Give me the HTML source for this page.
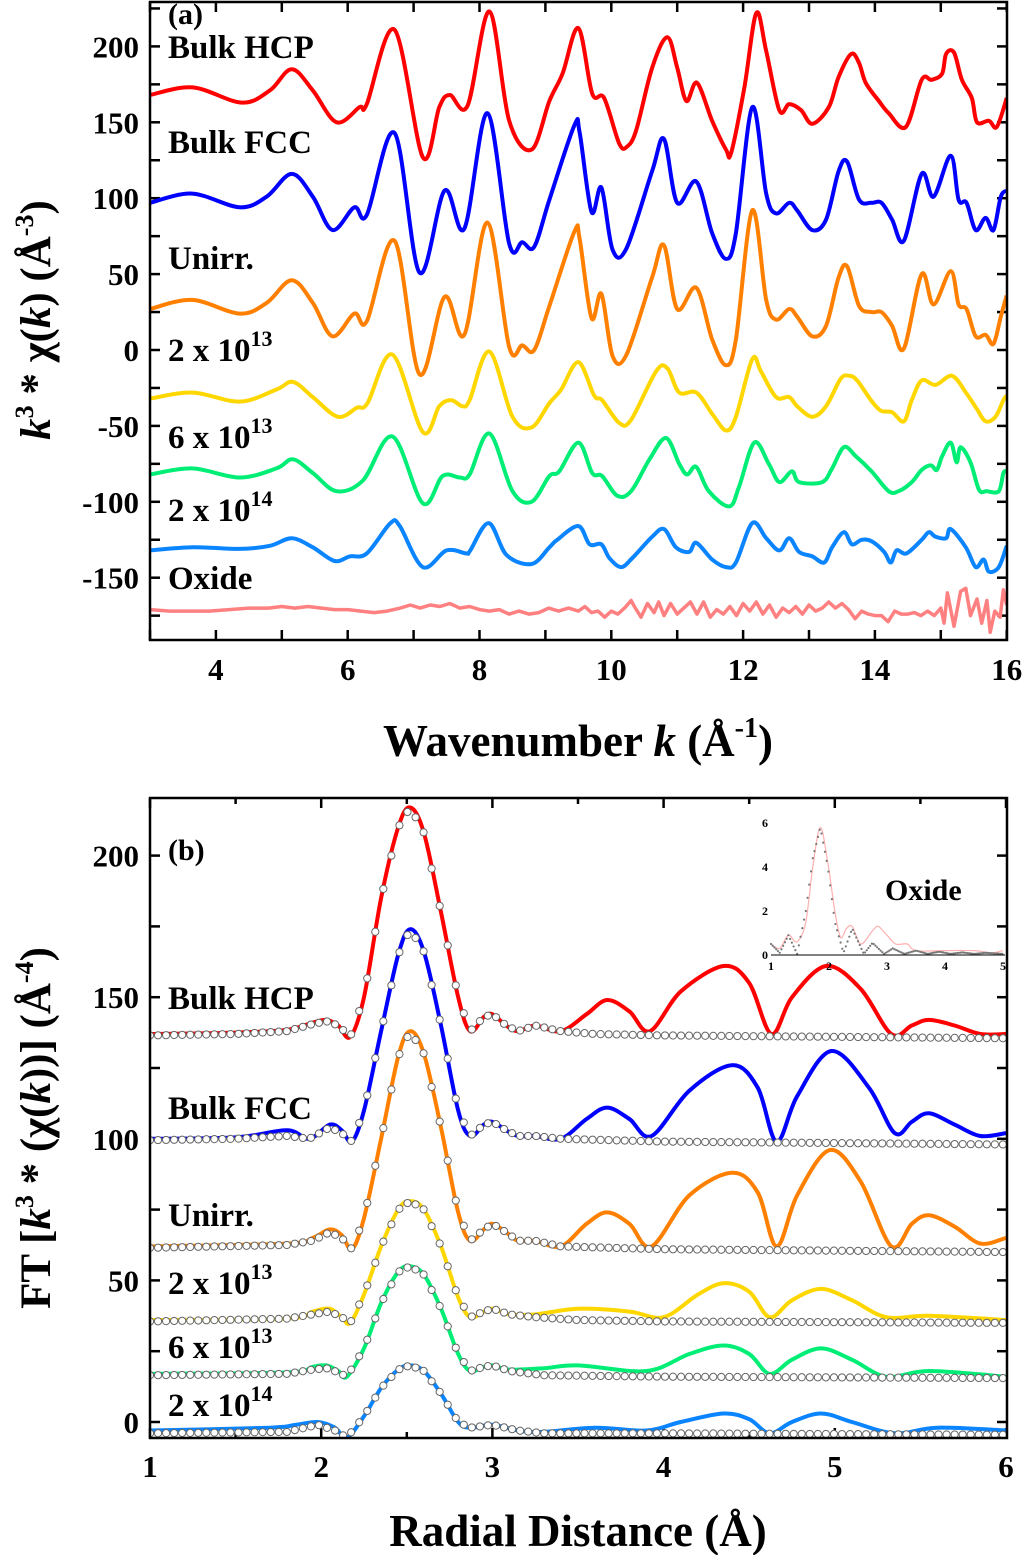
<!DOCTYPE html>
<html><head><meta charset="utf-8"><style>
html,body{margin:0;padding:0;background:#fff}
svg{display:block}
text{font-family:"Liberation Serif",serif;font-weight:bold;fill:#000}
</style></head><body>
<svg id="fig" width="1024" height="1555" viewBox="0 0 1024 1555" xmlns="http://www.w3.org/2000/svg">
<defs>
<clipPath id="clipA"><rect x="150" y="2" width="857" height="638"/></clipPath>
<clipPath id="clipB"><rect x="150" y="798" width="857" height="640"/></clipPath>
</defs>
<g id="panelA"></g>
<g id="panelB"></g>
<rect x="150" y="2" width="857" height="638" fill="none" stroke="#000" stroke-width="2.5"/>
<rect x="150" y="798" width="857" height="640" fill="none" stroke="#000" stroke-width="2.5"/>
<text x="168" y="24" font-size="30">(a)</text>
<text x="168" y="860" font-size="30">(b)</text>
<g font-size="33">
<text x="168" y="58">Bulk HCP</text>
<text x="168" y="153">Bulk FCC</text>
<text x="168" y="269">Unirr.</text>
<text x="168" y="361">2 x 10<tspan font-size="22" dy="-15">13</tspan></text>
<text x="168" y="448">6 x 10<tspan font-size="22" dy="-15">13</tspan></text>
<text x="168" y="521">2 x 10<tspan font-size="22" dy="-15">14</tspan></text>
<text x="168" y="589">Oxide</text>
</g>
<g font-size="33">
<text x="168" y="1009">Bulk HCP</text>
<text x="168" y="1119">Bulk FCC</text>
<text x="168" y="1226">Unirr.</text>
<text x="168" y="1294">2 x 10<tspan font-size="22" dy="-15">13</tspan></text>
<text x="168" y="1358">6 x 10<tspan font-size="22" dy="-15">13</tspan></text>
<text x="168" y="1416">2 x 10<tspan font-size="22" dy="-15">14</tspan></text>
</g>
<text x="578" y="756" font-size="45" text-anchor="middle">Wavenumber <tspan font-style="italic">k</tspan> (Å<tspan font-size="28" dy="-19">-1</tspan><tspan dy="19">)</tspan></text>
<text x="578" y="1546" font-size="45" text-anchor="middle">Radial Distance (Å)</text>
<text transform="translate(50,320) rotate(-90)" font-size="43" text-anchor="middle"><tspan font-style="italic">k</tspan><tspan font-size="26" dy="-17">3</tspan><tspan dy="17"> * χ(</tspan><tspan font-style="italic">k</tspan>) (Å<tspan font-size="26" dy="-17">-3</tspan><tspan dy="17">)</tspan></text>
<text transform="translate(50,1128) rotate(-90)" font-size="43" text-anchor="middle">FT [<tspan font-style="italic">k</tspan><tspan font-size="26" dy="-17">3</tspan><tspan dy="17"> * (χ(</tspan><tspan font-style="italic">k</tspan>))] (Å<tspan font-size="26" dy="-17">-4</tspan><tspan dy="17">)</tspan></text>
<g id="inset"></g>
</svg>
<script>
// ---------- Panel (a) data: [k, value] ----------
const hcpA=[[3,168],[3.65,173],[4.39,163],[4.82,171],[5.15,185],[5.47,171],[5.83,150],[6.18,160],[6.29,162],[6.71,211],[7.14,127],[7.39,160],[7.55,168],[7.82,161],[8.15,223],[8.45,151],[8.79,132],[9.06,164],[9.26,182],[9.5,212],[9.71,169],[9.89,166],[10.12,136],[10.24,134],[10.38,145],[10.62,186],[10.85,206],[11,186],[11.14,164],[11.3,176],[11.53,151],[11.74,132],[11.82,130],[12.02,173],[12.2,222],[12.35,197],[12.55,158],[12.7,162],[12.88,158],[13.05,149],[13.3,160],[13.45,180],[13.64,195],[13.76,189],[13.86,176],[14.06,164],[14.21,156],[14.47,147],[14.71,178],[14.86,178],[15.02,182],[15.08,195],[15.2,196],[15.32,178],[15.47,166],[15.55,150],[15.73,151],[15.85,147],[16,166]];
const fccA=[[3,97],[3.64,103],[4.36,94],[4.77,101],[5.15,116],[5.47,101],[5.77,79],[6.1,94],[6.29,89],[6.71,143],[7.09,51],[7.47,105],[7.77,80],[8.12,156],[8.45,70],[8.65,71],[8.83,68],[9.06,99],[9.44,148],[9.52,143],[9.7,91],[9.85,107],[10.02,66],[10.23,67],[10.62,118],[10.8,139],[11,97],[11.29,111],[11.53,77],[11.74,60],[11.89,77],[12.14,160],[12.35,103],[12.5,90],[12.7,97],[12.82,92],[13.05,79],[13.26,86],[13.45,118],[13.58,124],[13.76,99],[13.95,97],[14.1,97],[14.26,86],[14.44,72],[14.71,116],[14.89,101],[15.15,128],[15.27,99],[15.39,97],[15.53,79],[15.68,87],[15.8,79],[15.91,101],[16,105]];
const unirrA=[[3,27],[3.64,33],[4.36,24],[4.77,31],[5.15,46],[5.47,31],[5.77,9],[6.1,24],[6.29,19],[6.71,72],[7.09,-16],[7.47,35],[7.77,10],[8.12,84],[8.45,2],[8.65,3],[8.83,0],[9.06,29],[9.44,78],[9.52,73],[9.7,21],[9.85,37],[10.02,-4],[10.23,-3],[10.62,48],[10.8,69],[11,27],[11.29,41],[11.53,7],[11.74,-10],[11.89,7],[12.14,92],[12.35,33],[12.5,20],[12.7,27],[12.82,22],[13.05,9],[13.26,16],[13.45,48],[13.58,55],[13.76,29],[13.95,25],[14.1,25],[14.26,16],[14.44,1],[14.71,50],[14.89,30],[15.15,52],[15.27,30],[15.39,27],[15.53,9],[15.68,10],[15.8,4],[15.91,22],[16,36]];
const d2e13A=[[3,-32],[3.64,-28],[4.36,-34],[4.92,-26],[5.17,-21],[5.47,-31],[5.85,-44],[6.14,-38],[6.3,-35],[6.68,-3],[7.14,-54],[7.39,-37],[7.57,-33],[7.74,-37],[7.85,-33],[8.15,-1],[8.5,-44],[8.79,-51],[9.06,-35],[9.24,-26],[9.5,-8],[9.74,-30],[9.86,-33],[10.12,-48],[10.3,-46],[10.68,-14],[10.85,-12],[11.03,-28],[11.29,-28],[11.53,-42],[11.74,-53],[11.89,-44],[12.14,-6],[12.27,-14],[12.5,-31],[12.7,-31],[12.82,-37],[13.05,-44],[13.26,-37],[13.48,-19],[13.61,-17],[13.73,-20],[13.94,-33],[14.09,-40],[14.26,-41],[14.44,-47],[14.56,-33],[14.71,-20],[14.92,-23],[15.17,-17],[15.38,-28],[15.55,-39],[15.68,-47],[15.83,-44],[15.95,-33],[16,-30]];
const d6e13A=[[3,-82],[3.64,-78],[4.36,-84],[4.92,-78],[5.17,-72],[5.47,-81],[5.83,-93],[6.23,-86],[6.68,-57],[7.14,-101],[7.44,-83],[7.7,-84],[7.85,-82],[8.15,-55],[8.5,-93],[8.79,-100],[9.06,-83],[9.21,-80],[9.5,-61],[9.71,-81],[9.86,-83],[10.09,-96],[10.3,-93],[10.58,-72],[10.83,-58],[11.03,-75],[11.15,-82],[11.29,-77],[11.48,-93],[11.79,-103],[11.94,-90],[12.17,-61],[12.39,-75],[12.55,-87],[12.74,-80],[12.85,-87],[13.2,-87],[13.35,-78],[13.53,-64],[13.71,-70],[13.95,-80],[14.21,-93],[14.36,-93],[14.56,-87],[14.71,-79],[14.85,-76],[14.94,-79],[15.02,-70],[15.15,-61],[15.24,-74],[15.3,-64],[15.45,-74],[15.58,-92],[15.7,-93],[15.88,-93],[15.95,-81],[16,-80]];
const d2e14A=[[3,-132],[3.65,-130],[4.36,-131],[4.82,-129],[5.15,-124],[5.47,-130],[5.8,-139],[6.03,-136],[6.29,-134],[6.65,-114],[6.79,-116],[7.14,-143],[7.5,-132],[7.8,-134],[7.86,-132],[8.14,-114],[8.41,-135],[8.79,-141],[9.06,-130],[9.18,-125],[9.5,-116],[9.67,-128],[9.85,-128],[9.97,-137],[10.15,-143],[10.32,-137],[10.62,-123],[10.8,-118],[10.98,-130],[11.18,-133],[11.29,-127],[11.53,-138],[11.74,-143],[11.89,-140],[12.14,-114],[12.35,-124],[12.55,-132],[12.7,-124],[12.85,-133],[13.05,-136],[13.23,-140],[13.35,-130],[13.53,-120],[13.65,-128],[13.8,-125],[13.95,-126],[14.14,-133],[14.24,-140],[14.33,-132],[14.48,-134],[14.71,-125],[14.82,-120],[14.92,-123],[15.08,-124],[15.15,-118],[15.38,-130],[15.53,-143],[15.65,-138],[15.73,-146],[15.88,-143],[16,-129]];
const oxideA=[[3,-171],[3.3,-172],[3.6,-172],[3.9,-172],[4.2,-171],[4.5,-170],[4.8,-170],[5.0,-169],[5.2,-170],[5.4,-169],[5.6,-170],[5.8,-171],[6.0,-171],[6.2,-172],[6.4,-173],[6.6,-172],[6.8,-170],[6.95,-168],[7.1,-170],[7.25,-168],[7.4,-169],[7.55,-167],[7.7,-170],[7.85,-169],[8.0,-171],[8.15,-172],[8.3,-171],[8.45,-174],[8.6,-172],[8.75,-174],[8.9,-173],[9.05,-170],[9.2,-172],[9.35,-170],[9.5,-172],[9.6,-169],[9.7,-173],[9.8,-172],[9.9,-176],[10.0,-172],[10.1,-174],[10.2,-170],[10.3,-165],[10.35,-169],[10.45,-176],[10.55,-167],[10.65,-173],[10.72,-166],[10.8,-175],[10.9,-167],[11.0,-174],[11.1,-170],[11.2,-166],[11.3,-174],[11.4,-166],[11.5,-176],[11.6,-171],[11.7,-174],[11.8,-169],[11.9,-175],[12.0,-167],[12.1,-172],[12.2,-166],[12.3,-174],[12.4,-168],[12.5,-176],[12.6,-170],[12.7,-173],[12.8,-169],[12.9,-174],[13.0,-168],[13.1,-172],[13.2,-170],[13.3,-166],[13.4,-170],[13.5,-167],[13.6,-171],[13.7,-177],[13.8,-172],[13.9,-174],[14.0,-175],[14.1,-175],[14.2,-179],[14.3,-172],[14.4,-174],[14.5,-174],[14.6,-173],[14.7,-175],[14.8,-172],[14.9,-175],[15.0,-170],[15.05,-180],[15.1,-160],[15.2,-182],[15.3,-159],[15.38,-157],[15.45,-175],[15.55,-164],[15.62,-180],[15.7,-165],[15.75,-186],[15.82,-172],[15.9,-176],[15.95,-158],[16,-168]];
const xTicksA=[4,6,8,10,12,14,16];
const yTicksA=[200,150,100,50,0,-50,-100,-150];

// ---------- Panel (b) data: [r, value] ----------
const hcpB=[[1,137],[1.5,137.5],[1.8,138.5],[1.95,141],[2.03,142],[2.1,140],[2.17,136],[2.25,150],[2.35,185],[2.45,210],[2.52,217],[2.6,208],[2.7,180],[2.8,150],[2.87,138],[2.95,143],[3.0,144],[3.08,140],[3.15,138],[3.25,140],[3.4,138],[3.55,144],[3.67,149],[3.8,145],[3.92,138],[4.1,152],[4.35,161],[4.5,155],[4.63,137],[4.75,150],[4.95,161],[5.15,153],[5.33,137],[5.45,140],[5.55,142],[5.7,140],[5.85,137],[6,137]];
const hcpFit=[[1,136.5],[1.5,137],[1.8,138],[1.95,140.5],[2.03,141.5],[2.1,140],[2.17,136],[2.25,150],[2.35,185],[2.45,210],[2.52,217],[2.6,208],[2.7,180],[2.8,150],[2.87,138],[2.95,143],[3.0,144],[3.08,140],[3.15,138],[3.25,140],[3.4,138],[3.6,137],[4,136.5],[5,136],[6,135.5]];
const fccB=[[1,100],[1.5,100.5],[1.8,103],[1.93,100],[2.05,105],[2.12,103],[2.18,99],[2.25,110],[2.35,138],[2.45,165],[2.52,174],[2.6,166],[2.7,140],[2.8,110],[2.87,101],[2.95,105],[3.0,106],[3.08,103],[3.15,101],[3.25,101],[3.4,100],[3.55,107],[3.67,111],[3.8,107],[3.93,101],[4.15,117],[4.4,126],[4.55,118],[4.66,99],[4.78,115],[4.98,131],[5.2,118],[5.35,102],[5.45,106],[5.55,109],[5.7,105],[5.85,101],[6,102]];
const fccFit=[[1,99.5],[1.5,100],[1.8,101],[1.93,100],[2.05,104],[2.12,102],[2.18,99],[2.25,110],[2.35,138],[2.45,165],[2.52,174],[2.6,166],[2.7,140],[2.8,110],[2.87,101],[2.95,105],[3.0,106],[3.08,103],[3.15,101],[3.25,101],[3.4,100],[4,99],[6,98]];
const unirrB=[[1,62],[1.8,63],[1.95,65],[2.05,68],[2.12,66],[2.18,61],[2.25,72],[2.35,100],[2.45,129],[2.52,138],[2.6,130],[2.7,104],[2.8,74],[2.87,64],[2.95,68],[3.0,70],[3.08,67],[3.15,64],[3.25,64],[3.4,62],[3.55,70],[3.67,74],[3.8,70],[3.93,62],[4.15,80],[4.4,88],[4.55,81],[4.66,62],[4.78,80],[4.97,96],[5.15,85],[5.33,62],[5.45,70],[5.55,73],[5.7,69],[5.85,63],[6,65]];
const unirrFit=[[1,61.5],[1.8,62.5],[1.95,64],[2.05,67],[2.12,65],[2.18,61],[2.25,72],[2.35,100],[2.45,129],[2.52,138],[2.6,130],[2.7,104],[2.8,74],[2.87,64],[2.95,68],[3.0,70],[3.08,67],[3.15,64],[3.25,64],[3.4,62],[4,61],[6,60]];
const d2e13B=[[1,36],[1.8,36.5],[1.95,39],[2.05,40],[2.12,37],[2.17,35],[2.25,45],[2.35,62],[2.45,75],[2.52,78],[2.6,75],[2.7,62],[2.8,44],[2.87,37],[2.95,39],[3.0,40],[3.1,38],[3.25,38],[3.5,40],[3.8,39],[4.0,37],[4.2,45],[4.35,49],[4.5,46],[4.62,37],[4.75,43],[4.92,47],[5.1,43],[5.3,37],[5.55,37.5],[6,36]];
const d2e13Fit=[[1,35.5],[1.8,36.5],[1.95,38],[2.05,39],[2.12,37],[2.17,35],[2.25,45],[2.35,62],[2.45,75],[2.52,78],[2.6,75],[2.7,62],[2.8,44],[2.87,37],[2.95,39],[3.0,40],[3.1,38],[3.25,37],[3.5,36],[4,35.5],[6,35]];
const d6e13B=[[1,17],[1.8,17.5],[1.95,19.5],[2.03,20],[2.1,18],[2.15,16],[2.25,26],[2.35,42],[2.45,53],[2.52,55],[2.6,52],[2.7,40],[2.8,24],[2.87,18],[2.95,19.5],[3.0,20],[3.1,18.5],[3.3,19],[3.5,20],[3.9,18],[4.15,24],[4.35,27],[4.5,24],[4.62,17],[4.75,22],[4.92,26],[5.1,22],[5.3,16],[5.55,18],[6,16]];
const d6e13Fit=[[1,16.5],[1.8,17],[1.95,18.5],[2.03,19],[2.1,17.5],[2.15,16],[2.25,26],[2.35,42],[2.45,53],[2.52,55],[2.6,52],[2.7,40],[2.8,24],[2.87,18],[2.95,19.5],[3.0,20],[3.1,18],[3.3,16.5],[4,16],[6,15.5]];
const d2e14B=[[1,-3],[1.7,-2],[1.85,-1],[1.98,0],[2.08,-2],[2.15,-5.5],[2.25,2],[2.35,12],[2.45,18.5],[2.52,20],[2.6,18],[2.7,10],[2.8,0],[2.87,-2],[3.0,-1],[3.15,-3],[3.3,-3.5],[3.6,-2],[3.9,-3],[4.1,0],[4.35,3],[4.5,1],[4.62,-4],[4.75,0],[4.92,3],[5.1,0],[5.35,-4],[5.6,-2],[6,-3]];
const d2e14Fit=[[1,-4],[1.8,-3.5],[1.98,-1],[2.08,-3],[2.15,-5.5],[2.25,2],[2.35,12],[2.45,18.5],[2.52,20],[2.6,18],[2.7,10],[2.8,0],[2.87,-2],[3.0,-1],[3.15,-3],[3.3,-4],[4,-4],[6,-4.5]];
const xTicksB=[1,2,3,4,5,6];
const yTicksB=[200,150,100,50,0];

// ---------- Inset data ----------
const insetLine=[[1,0.5],[1.15,0.3],[1.3,0.9],[1.45,0.6],[1.6,1.5],[1.72,4],[1.85,5.8],[1.98,4.2],[2.1,2],[2.2,0.8],[2.3,1.2],[2.4,1.3],[2.55,0.5],[2.75,1.1],[2.85,1.3],[3.0,0.9],[3.15,0.5],[3.35,0.5],[3.5,0.2],[4.0,0.2],[4.5,0.2],[4.8,0.1],[5,0.2]];
const insetFit=[[1,0.5],[1.15,0.1],[1.3,0.9],[1.45,0.05],[1.6,2],[1.72,4.4],[1.85,5.8],[1.98,4],[2.1,1.5],[2.25,0.1],[2.4,1.2],[2.6,0.05],[2.75,0.55],[2.95,0.05],[3.1,0.3],[3.3,0.05],[3.5,0.2],[3.7,0.05],[3.9,0.15],[4.1,0.05],[4.3,0.12],[4.5,0.05],[4.7,0.1],[5,0.05]];
const insetXTicks=[1,2,3,4,5];
const insetYTicks=[0,2,4,6];

const NS='http://www.w3.org/2000/svg';
const xa=k=>150+(k-3)*65.9, ya=v=>350-v*1.518;
const xb=r=>150+(r-1)*171.2, yb=v=>1422-v*2.832;
const xi=r=>771+(r-1)*58, yi=v=>955-v*22;
function mk(tag,attrs,parent){const e=document.createElementNS(NS,tag);for(const a in attrs)e.setAttribute(a,attrs[a]);parent.appendChild(e);return e;}
function smooth(pts){let d='M'+pts[0][0].toFixed(1)+','+pts[0][1].toFixed(1);const n=pts.length;
 for(let i=0;i<n-1;i++){const p0=pts[Math.max(i-1,0)],p1=pts[i],p2=pts[i+1],p3=pts[Math.min(i+2,n-1)];
  const c1=[p1[0]+(p2[0]-p0[0])/6,p1[1]+(p2[1]-p0[1])/6],c2=[p2[0]-(p3[0]-p1[0])/6,p2[1]-(p3[1]-p1[1])/6];
  d+='C'+c1[0].toFixed(1)+','+c1[1].toFixed(1)+' '+c2[0].toFixed(1)+','+c2[1].toFixed(1)+' '+p2[0].toFixed(1)+','+p2[1].toFixed(1);}
 return d;}
function lin(pts){return 'M'+pts.map(p=>p[0].toFixed(1)+','+p[1].toFixed(1)).join('L');}
function interp(data,x){for(let i=0;i<data.length-1;i++){if(x>=data[i][0]&&x<=data[i+1][0]){const t=(x-data[i][0])/(data[i+1][0]-data[i][0]);return data[i][1]+t*(data[i+1][1]-data[i][1]);}}return data[data.length-1][1];}

const A=document.getElementById('panelA'), B=document.getElementById('panelB'), I=document.getElementById('inset');

for(let k=3;k<=16;k++){
 const t1=mk('line',{x1:xa(k),x2:xa(k),y1:640,y2:630,stroke:'#000','stroke-width':2.5},A);
 
 
 const t2=mk('line',{x1:xa(k),x2:xa(k),y1:2,y2:12,stroke:'#000','stroke-width':2.5},A);
 
 
}
for(let v=-175;v<=225;v+=25){
 const t1=mk('line',{x1:150,x2:160,y1:ya(v),y2:ya(v),stroke:'#000','stroke-width':2.5},A);
 
 
 const t2=mk('line',{x1:1007,x2:997,y1:ya(v),y2:ya(v),stroke:'#000','stroke-width':2.5},A);
 
 
}
xTicksA.forEach(k=>{const t=mk('text',{x:xa(k),y:680,'font-size':31,'text-anchor':'middle'},A);t.textContent=k;
 
 });
yTicksA.forEach(v=>{const t=mk('text',{x:139,y:ya(v)+11,'font-size':31,'text-anchor':'end'},A);t.textContent=v;
 
 });

const gA=mk('g',{'clip-path':'url(#clipA)'},A);


const seriesA=[[hcpA,'#ff0000','hcp'],[fccA,'#0000ff','fcc'],[unirrA,'#ff8000','unirr'],[d2e13A,'#ffd700','2e13'],[d6e13A,'#00ee76','6e13'],[d2e14A,'#0a84ff','2e14']];
seriesA.forEach(s=>{const p=mk('path',{d:smooth(s[0].map(q=>[xa(q[0]),ya(q[1])])),fill:'none',stroke:s[1],'stroke-width':4,'stroke-linejoin':'round'},gA);
 
 });
const ox=mk('path',{d:lin(oxideA.map(q=>[xa(q[0]),ya(q[1])])),fill:'none',stroke:'#ff8080','stroke-width':3.5,'stroke-linejoin':'round'},gA);



for(let r=1;r<=6.001;r+=0.5){const len=(Math.abs(r-Math.round(r))<0.01)?10:6;
 const t1=mk('line',{x1:xb(r),x2:xb(r),y1:1438,y2:1438-len,stroke:'#000','stroke-width':2.5},B);
 
 
 const t2=mk('line',{x1:xb(r),x2:xb(r),y1:798,y2:798+len,stroke:'#000','stroke-width':2.5},B);
 
 }
for(let v=0;v<=200;v+=25){
 const t1=mk('line',{x1:150,x2:160,y1:yb(v),y2:yb(v),stroke:'#000','stroke-width':2.5},B);
 
 
 const t2=mk('line',{x1:1007,x2:997,y1:yb(v),y2:yb(v),stroke:'#000','stroke-width':2.5},B);
 
 }
xTicksB.forEach(r=>{const t=mk('text',{x:xb(r),y:1477,'font-size':31,'text-anchor':'middle'},B);t.textContent=r;
 
 });
yTicksB.forEach(v=>{const t=mk('text',{x:139,y:yb(v)+11,'font-size':31,'text-anchor':'end'},B);t.textContent=v;
 
 });

const gB=mk('g',{'clip-path':'url(#clipB)'},B);


const seriesB=[[hcpB,hcpFit,'#ff0000','hcp'],[fccB,fccFit,'#0000ff','fcc'],[unirrB,unirrFit,'#ff8000','unirr'],[d2e13B,d2e13Fit,'#ffd700','2e13'],[d6e13B,d6e13Fit,'#00ee76','6e13'],[d2e14B,d2e14Fit,'#0a84ff','2e14']];
seriesB.forEach(s=>{
 const p=mk('path',{d:smooth(s[0].map(q=>[xb(q[0]),yb(q[1])])),fill:'none',stroke:s[2],'stroke-width':4,'stroke-linejoin':'round'},gB);
 
 
 for(let r=1;r<=6.0001;r+=0.047){
  const c=mk('circle',{cx:xb(r),cy:yb(interp(s[1],r)),r:3.6,fill:'#fff',stroke:'#666','stroke-width':1},gB);
  
  
 }
});

const il=mk('path',{d:smooth(insetLine.map(q=>[xi(q[0]),yi(q[1])])),fill:'none',stroke:'#ffb0b0','stroke-width':1.2},I);


for(let r=1;r<=5.0001;r+=0.03){
 const c=mk('circle',{cx:xi(r),cy:yi(interp(insetFit,r)),r:1.1,fill:'#777'},I);
 
 
}
const ax=mk('line',{x1:771,x2:1005,y1:955,y2:955,stroke:'#000','stroke-width':1},I);


insetXTicks.forEach(r=>{const t=mk('text',{x:xi(r),y:970,'font-size':12,'text-anchor':'middle'},I);t.textContent=r;
 
 });
insetYTicks.forEach(v=>{const t=mk('text',{x:768,y:yi(v)+4,'font-size':12,'text-anchor':'end'},I);t.textContent=v;
 
 });
const il2=mk('text',{x:885,y:900,'font-size':30},I);il2.textContent='Oxide';


</script>
</body></html>
